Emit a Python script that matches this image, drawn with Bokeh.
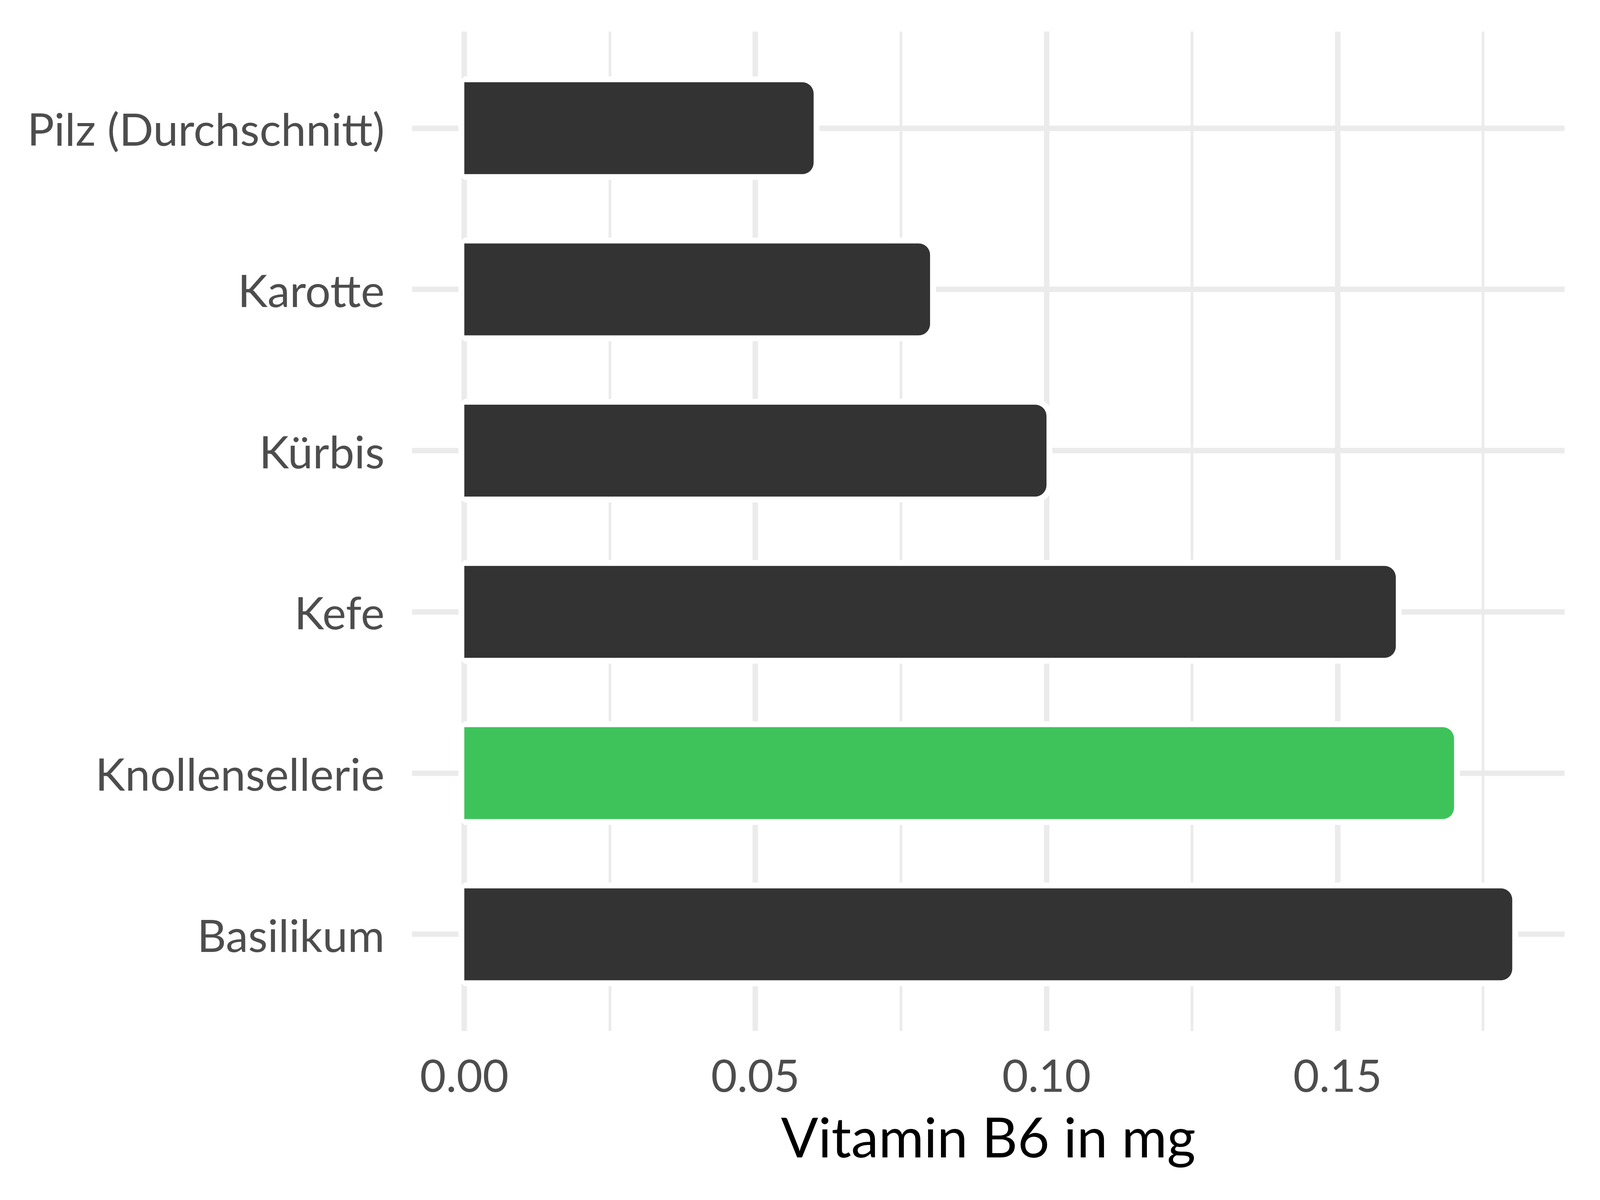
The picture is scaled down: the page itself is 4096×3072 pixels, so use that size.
from bokeh.plotting import figure
from bokeh.models import FactorRange, Range1d, FixedTicker, NumeralTickFormatter, ColumnDataSource
from bokeh.embed import file_html
from bokeh.resources import INLINE

foods = ["Pilz (Durchschnitt)", "Karotte", "Kürbis", "Kefe", "Knollensellerie", "Basilikum"]
vitamin_b6 = [0.06, 0.08, 0.10, 0.16, 0.17, 0.18]
highlight = "Knollensellerie"
x_ticks = [0.00, 0.05, 0.10, 0.15]
x_title = "Vitamin B6 in mg"

DARK = "#333333"
GREEN = "#3EC35A"
GRID = "#EBEBEB"
FONT = "Lato"

colors = [GREEN if f == highlight else DARK for f in foods]
src = ColumnDataSource(dict(food=foods, value=vitamin_b6, color=colors))

step = x_ticks[1] - x_ticks[0]
minor = [t + step / 2 for t in x_ticks]

p = figure(
    width=4080, height=3056,
    y_range=FactorRange(factors=list(reversed(foods)), range_padding=0.1, range_padding_units="absolute"),
    x_range=Range1d(-0.009, 0.189),
    output_backend="svg", toolbar_location=None,
    min_border_left=1054, min_border_right=75, min_border_top=80, min_border_bottom=417,
)
p.outline_line_color = None
p.background_fill_color = "white"
p.border_fill_color = "white"

# grid
p.xaxis.ticker = FixedTicker(ticks=x_ticks, minor_ticks=minor)
p.xaxis.formatter = NumeralTickFormatter(format="0.00")
p.xgrid.grid_line_color = GRID
p.xgrid.grid_line_width = 14
p.xgrid.minor_grid_line_color = GRID
p.xgrid.minor_grid_line_width = 7
p.ygrid.grid_line_color = GRID
p.ygrid.grid_line_width = 14

# white halo behind bars
p.hbar(y="food", right="value", left=0, height=0.57, source=src,
       fill_color="white", line_color="white", line_width=30,
       border_radius=(0, 29, 29, 0))
p.hbar(y="food", right="value", left=0, height=0.57, source=src,
       fill_color="color", line_color=None,
       border_radius=(0, 29, 29, 0))

for ax in (p.xaxis[0], p.yaxis[0]):
    ax.axis_line_color = None
    ax.major_tick_line_color = None
    ax.minor_tick_line_color = None
    ax.major_tick_out = 0
    ax.major_tick_in = 0
    ax.major_label_text_font = FONT
    ax.major_label_text_font_size = "115px"
    ax.major_label_text_color = "#4D4D4D"

p.yaxis.major_label_standoff = 70
p.xaxis.major_label_standoff = 68
p.xaxis.axis_label = x_title
p.xaxis.axis_label_text_font = FONT
p.xaxis.axis_label_text_font_size = "141px"
p.xaxis.axis_label_text_font_style = "normal"
p.xaxis.axis_label_text_color = "black"
p.xaxis.axis_label_standoff = 26

open("out.html", "w").write(file_html(p, INLINE))
